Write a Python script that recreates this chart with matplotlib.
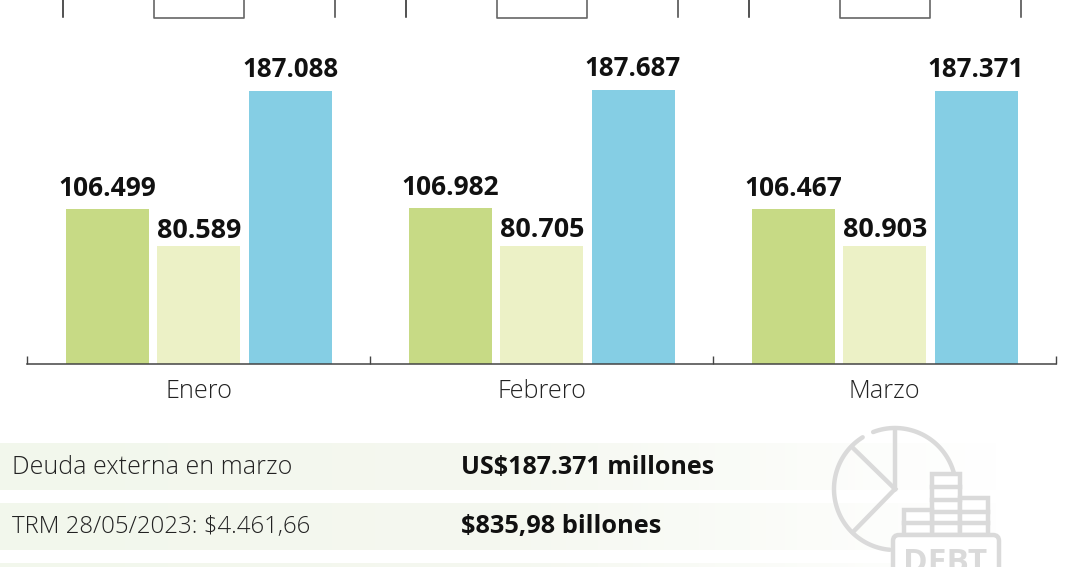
import numpy as np
import matplotlib
matplotlib.use('Agg')
import matplotlib.pyplot as plt
from matplotlib.patches import FancyBboxPatch, Rectangle
from matplotlib.colors import LinearSegmentedColormap

months = ['Enero', 'Febrero', 'Marzo']
serie_verde = [106499, 106982, 106467]
serie_clara = [80589, 80705, 80903]
serie_azul = [187088, 187687, 187371]
etiquetas_verde = ['106.499', '106.982', '106.467']
etiquetas_clara = ['80.589', '80.705', '80.903']
etiquetas_azul = ['187.088', '187.687', '187.371']
filas_izq = ['Deuda externa en marzo', 'TRM 28/05/2023: $4.461,66']
filas_der = ['US$187.371 millones', '$835,98 billones']

W, H = 1080, 567
plt.rcParams['font.family'] = ['Open Sans', 'Noto Sans', 'DejaVu Sans']

fig = plt.figure(figsize=(W / 100, H / 100), dpi=100, facecolor='white')

# capa de fondo en pixeles para franjas, icono y recuadros cortados
bg = fig.add_axes([0, 0, 1, 1])
bg.set_xlim(0, W)
bg.set_ylim(H, 0)
bg.axis('off')

# franjas que se desvanecen a la derecha
cmap = LinearSegmentedColormap.from_list('fade', ['#f2f7ec', '#f5f8f0', '#ffffff'])
grad = np.linspace(0, 1, 256).reshape(1, -1)
for top, bottom in [(443, 490), (503, 550), (563, 567)]:
    bg.imshow(grad, extent=(0, 1000, bottom, top), cmap=cmap, aspect='auto', zorder=0)
bg.set_xlim(0, W)
bg.set_ylim(H, 0)

# restos de la tabla de arriba
for i in range(3):
    dx = i * 343
    bg.plot([63 + dx, 63 + dx], [0, 17], color='#222222', lw=1.1)
    bg.plot([335 + dx, 335 + dx], [0, 17], color='#444444', lw=1.1)
    bg.plot([154 + dx, 154 + dx, 244 + dx, 244 + dx], [0, 17.5, 17.5, 0], color='#666666', lw=1.2)

# icono
gris = '#dadada'
cx, cy, r = 895, 489, 61
for a0, a1 in [(15, 111), (122, 265)]:
    t = np.radians(np.linspace(a0, a1, 80))
    bg.plot(cx + r * np.cos(t), cy - r * np.sin(t), color=gris, lw=3.2, solid_capstyle='round', zorder=2)
for px, py in [(895, 431), (853, 448), (853, 532)]:
    bg.plot([cx, px], [cy, py], color=gris, lw=3.2, zorder=2)
for x0, x1, top, lines in [(932, 960, 474, [487, 500, 512, 523]),
                           (960, 988, 498, [512, 523]),
                           (904, 932, 510, [523])]:
    bg.add_patch(Rectangle((x0, top), x1 - x0, 535 - top, fill=True, fc='white', ec=gris, lw=3.2, zorder=3))
    for ly in lines:
        bg.plot([x0, x1], [ly, ly], color=gris, lw=3.2, zorder=4)
bg.add_patch(FancyBboxPatch((893, 535), 106, 60, boxstyle='round,pad=0,rounding_size=6',
                            fc='white', ec=gris, lw=3.2, zorder=5))
bg.text(945, 563, 'DEBT', color=gris, fontsize=24, fontweight='bold', ha='center', va='center', zorder=6)

# textos de las franjas
for fila, y, fs in zip(filas_izq, [467, 527], [18, 17.3]):
    bg.text(12, y, fila, fontsize=fs, color='#222222', fontweight='light', ha='left', va='center', zorder=7)
for fila, y, fs in zip(filas_der, [467, 527], [18, 18.3]):
    bg.text(461, y, fila, fontsize=fs, color='#111111', fontweight='bold', ha='left', va='center', zorder=7)

# grafico de barras
ax_left, ax_right, base_y, ymax = 27, 1056, 364, 200000
ax_h = ymax * 273 / 187088
ax = fig.add_axes([ax_left / W, (H - base_y) / H, (ax_right - ax_left) / W, ax_h / H])
ax.patch.set_alpha(0)
x = np.arange(len(months))
ax.set_xlim(-0.5, 2.5)
ax.set_ylim(0, ymax)
ancho = 83 / 343
paso = 91.5 / 343
b1 = ax.bar(x - paso + 0.001, serie_verde, ancho, color='#c7da85')
b2 = ax.bar(x + 0.001, serie_clara, ancho, color='#ecf1c6')
b3 = ax.bar(x + paso, serie_azul, ancho, color='#85cee4')
for bars, labs, pad, fs in [(b1, etiquetas_verde, 5, 19), (b2, etiquetas_clara, 2, 19.4), (b3, etiquetas_azul, 5.8, 18.6)]:
    ax.bar_label(bars, labels=labs, padding=pad, fontsize=fs, fontweight='bold', color='#111111')

for s in ['top', 'left', 'right']:
    ax.spines[s].set_visible(False)
ax.spines['bottom'].set_color('#444444')
ax.spines['bottom'].set_linewidth(1.1)
ax.set_yticks([])
ax.set_xticks([-0.5, 0.5, 1.5, 2.5])
ax.set_xticklabels([])
ax.tick_params(axis='x', direction='in', length=6, width=1, color='#444444')
ax.set_xticks(x, minor=True)
ax.set_xticklabels(months, minor=True, fontsize=18.2, fontweight='light', color='#222222')
ax.tick_params(axis='x', which='minor', length=0, pad=11)

fig.savefig('out.png', dpi=100)
